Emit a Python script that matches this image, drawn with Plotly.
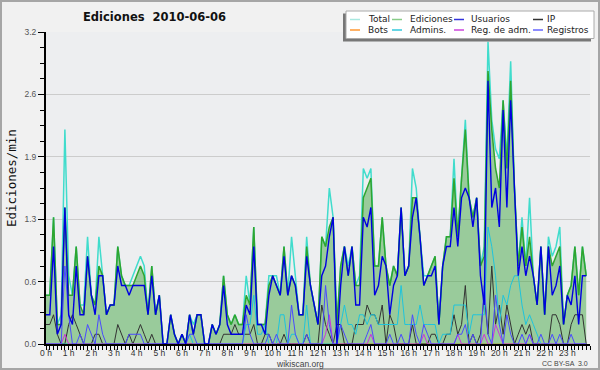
import plotly.graph_objects as go

# ---------------- data (edits per minute, 10-minute samples) ----------------
slot_minutes = 10
n_slots = 144
hours = [k * slot_minutes / 60 for k in range(n_slots)]

ediciones = [
    0.5,0.5,1.3,0.2,0.2,1.4, 0.5,0.5,1.0,0.4,0.3,0.9,
    0.5,0.4,0.8,0.7,0.3,0.4, 0.4,1.0,0.7,0.6,0.6,0.6,
    0.7,0.8,0.7,0.3,0.8,0.3, 0.5,0.0,0.0,0.3,0.1,0.0,
    0.1,0.0,0.3,0.1,0.3,0.3, 0.0,0.0,0.2,0.1,0.2,0.7,
    0.3,0.2,0.3,0.2,0.2,0.5, 0.4,1.2,0.2,0.2,0.2,0.6,
    0.7,0.6,0.5,1.0,0.5,0.7, 0.6,0.3,0.3,1.0,0.6,0.4,
    0.2,1.1,1.0,1.2,1.3,0.2, 0.8,1.0,0.7,1.0,0.6,0.6,
    1.5,1.6,1.7,0.8,0.8,1.3, 0.8,0.6,0.8,0.7,1.4,0.7,
    0.8,1.5,1.5,1.1,0.6,0.7, 0.8,0.9,0.2,0.8,1.1,1.1,
    1.7,1.1,1.7,2.2,1.5,1.3, 1.5,0.8,0.9,2.8,2.2,1.8,
    1.6,2.5,1.8,2.7,1.6,0.8, 1.2,0.8,1.1,0.7,0.4,1.0,
    0.3,1.0,0.8,0.9,1.0,0.2, 0.5,0.6,1.0,0.5,1.0,0.7,
]
total = [
    0.5,0.5,1.3,0.2,0.3,2.2, 0.7,0.5,1.0,0.4,0.4,1.1,
    0.5,0.4,1.1,0.7,0.3,0.4, 0.4,1.0,0.7,0.6,0.6,0.7,
    0.8,0.9,0.8,0.3,0.8,0.3, 0.5,0.0,0.0,0.3,0.1,0.0,
    0.1,0.0,0.3,0.2,0.3,0.3, 0.0,0.0,0.2,0.1,0.2,0.7,
    0.3,0.2,0.3,0.2,0.2,0.7, 0.4,1.2,0.2,0.2,0.2,0.7,
    0.7,0.7,0.5,1.0,0.5,1.1, 0.7,0.3,0.3,1.1,0.6,0.4,
    0.2,1.1,1.0,1.6,1.3,0.2, 0.8,1.0,0.8,1.0,0.6,0.7,
    1.8,1.7,1.8,0.8,0.8,1.3, 0.8,0.6,0.8,0.7,1.4,0.7,
    0.8,1.8,1.6,1.1,0.7,0.7, 0.8,0.9,0.2,0.8,1.1,1.1,
    1.9,1.1,1.7,2.3,1.5,1.3, 1.5,0.8,1.0,3.1,2.3,2.0,
    1.9,2.5,1.9,2.9,1.6,0.8, 1.3,0.8,1.5,0.7,0.4,1.0,
    0.3,1.1,0.9,1.0,1.2,0.2, 0.5,0.6,1.0,0.5,1.0,0.7,
]
usuarios = [
    0.3,0.3,1.0,0.1,0.2,1.4, 0.3,0.2,0.8,0.3,0.3,0.9,
    0.5,0.3,0.7,0.7,0.3,0.4, 0.4,0.8,0.6,0.6,0.5,0.6,
    0.6,0.6,0.6,0.3,0.7,0.3, 0.5,0.0,0.0,0.3,0.1,0.0,
    0.1,0.0,0.3,0.1,0.3,0.3, 0.0,0.0,0.2,0.1,0.2,0.6,
    0.2,0.1,0.1,0.1,0.1,0.4, 0.3,1.0,0.2,0.2,0.1,0.5,
    0.7,0.6,0.5,0.9,0.5,0.7, 0.6,0.3,0.3,0.9,0.6,0.4,
    0.2,0.7,0.8,1.1,1.3,0.0, 0.6,1.0,0.7,1.0,0.4,0.4,
    1.3,1.2,1.4,0.5,0.6,0.9, 0.8,0.3,0.6,0.7,1.4,0.7,
    0.8,1.3,1.5,1.1,0.6,0.7, 0.7,0.8,0.2,0.8,1.0,1.0,
    1.4,1.0,1.5,1.6,1.5,1.2, 1.5,0.7,0.4,2.7,1.4,1.6,
    1.2,2.4,1.4,2.5,1.6,0.7, 1.0,0.7,0.9,0.7,0.4,1.0,
    0.3,1.0,0.5,0.6,0.8,0.2, 0.5,0.4,0.7,0.2,0.7,0.7,
]
ip = [
    0.2,0.2,0.3,0.1,0.0,0.0, 0.2,0.3,0.2,0.1,0.0,0.0,
    0.0,0.1,0.1,0.0,0.0,0.0, 0.0,0.2,0.1,0.0,0.1,0.0,
    0.1,0.2,0.1,0.0,0.1,0.0, 0.0,0.0,0.0,0.0,0.0,0.0,
    0.0,0.0,0.0,0.0,0.0,0.0, 0.0,0.0,0.0,0.0,0.0,0.1,
    0.1,0.1,0.2,0.1,0.1,0.1, 0.1,0.2,0.0,0.0,0.1,0.1,
    0.0,0.0,0.0,0.1,0.0,0.0, 0.0,0.0,0.0,0.1,0.0,0.0,
    0.0,0.4,0.2,0.1,0.0,0.2, 0.2,0.0,0.0,0.0,0.2,0.2,
    0.2,0.4,0.3,0.3,0.2,0.4, 0.0,0.3,0.2,0.0,0.0,0.0,
    0.0,0.2,0.0,0.0,0.0,0.0, 0.1,0.1,0.0,0.0,0.1,0.1,
    0.3,0.1,0.2,0.6,0.0,0.1, 0.0,0.1,0.5,0.1,0.8,0.2,
    0.4,0.1,0.4,0.2,0.0,0.1, 0.2,0.1,0.2,0.0,0.0,0.0,
    0.0,0.0,0.3,0.3,0.2,0.0, 0.0,0.2,0.3,0.3,0.3,0.0,
]
bots = [0.0] * n_slots
admins = [
    0,0,0,0,0,0, 0,0,0,0,0,0,
    0,0,0,0,0,0, 0,0,0,0,0,0,
    0,0,0,0,0,0, 0,0,0,0,0,0,
    0,0,0.1,0,0,0, 0,0,0,0,0,0,
    0,0,0,0,0,0.2, 0.2,0.5,0.1,0.1,0.2,0.0,
    0.0,0.0,0.3,0.3,0.0,0.1, 0.1,0.0,0.0,0.4,0.0,0.0,
    0,0,0,0,0,0, 0.2,0.4,0.2,0.2,0.1,0.3,
    0.3,0.2,0.3,0.3,0.2,0.2, 0.2,0.2,0.2,0.2,0.6,0.2,
    0.2,0.2,0.2,0.4,0.2,0.2, 0.2,0.2,0.0,0.1,0.1,0.1,
    0.4,0.4,0.4,0.4,0.1,0.3, 0.3,0.3,0.3,1.2,1.0,0.7,
    0.2,0.5,0.4,0.6,0.7,0.7, 0.4,0.2,0.3,0.2,0.1,0.0,
    0,0,0,0,0,0, 0,0,0,0,0,0,
]
reg_adm = [
    0,0,0,0,0,0.1, 0,0,0,0,0,0,
    0,0,0,0,0,0, 0,0,0,0,0,0,
    0,0,0,0,0,0, 0,0,0,0,0,0,
    0,0,0,0,0,0, 0,0,0,0,0,0,
    0,0,0,0,0,0, 0,0,0,0,0,0,
    0,0,0,0,0,0, 0,0,0,0,0,0,
    0,0,0.1,0.3,0,0, 0,0,0,0,0,0,
    0,0,0.1,0,0,0, 0,0,0,0,0,0,
    0,0,0,0,0.1,0, 0,0,0,0,0,0,
    0,0.1,0,0,0,0, 0,0,0.1,0,0,0.2,
    0.1,0,0,0,0,0, 0,0,0.1,0,0,0,
    0,0,0,0,0,0, 0,0,0,0,0,0,
]
registros = [
    0,0,0,0,0,0.8, 0.3,0,0,0.1,0,0.2,
    0.1,0,0.3,0.1,0,0, 0,0,0,0,0.1,0.1,
    0.1,0.1,0,0,0,0, 0,0,0,0,0,0,
    0,0,0.1,0.1,0,0, 0,0,0,0,0,0,
    0,0,0,0,0,0.3, 0.1,0,0,0,0,0.1,
    0,0.1,0,0,0,0.4, 0.1,0,0,0.1,0,0,
    0,0,0.6,0.2,0,0, 0.2,0.1,0,0,0,0,
    0,0.1,0.2,0,0,0, 0,0.1,0,0,0.1,0,
    0,0.3,0.1,0,0.2,0.1, 0,0,0,0,0,0,
    0,0.1,0.1,0.2,0,0.1, 0,0,0.6,0.1,0,0.5,
    0.2,0,0.3,0.1,0,0, 0.1,0,0.1,0,0,0.1,
    0,0,0.1,0,0.1,0, 0,0.1,0,0,0,0,
]

x_tick_vals = list(range(24))
x_tick_labels = [f"{h} h" for h in range(24)]
y_tick_vals = [0, 0.64, 1.28, 1.92, 2.56, 3.2]
y_tick_labels = ["0.0", "0.6", "1.3", "1.9", "2.6", "3.2"]

legend_labels = ["Total", "Ediciones", "Usuarios", "IP",
                 "Bots", "Admins.", "Reg. de adm.", "Registros"]
legend_colors = ["#a8e8e0", "#88cc88", "#3333dd", "#333333",
                 "#ff9933", "#33c8dd", "#cc44dd", "#6666ff"]

# ---------------- geometry ----------------
W, H = 600, 370
ML, MR, MT, MB = 46, 10, 32, 26
PW, PH = W - ML - MR, H - MT - MB


def px(x):
    return (x - ML) / PW


def py(y):
    return (H - MB - y) / PH


FONT = "DejaVu Sans"
SMALL = "Liberation Sans"

fig = go.Figure()

series = [
    ("Bots", bots, "#ff9933", 1.0),
    ("Total", total, "#40dccc", 1.5),
]
for name, vals, col, w in series:
    fig.add_trace(go.Scatter(x=hours, y=vals, mode="lines", name=name,
                             line=dict(color=col, width=w), showlegend=False))

fig.add_trace(go.Scatter(x=hours, y=ediciones, mode="lines", name="Ediciones",
                         line=dict(color="#2fa52f", width=1.5), fill="tozeroy",
                         fillcolor="rgba(50,160,50,0.45)", showlegend=False))

for name, vals, col, w in [
    ("IP", ip, "#333333", 1.0),
    ("Admins.", admins, "#1fc4dc", 1.0),
    ("Reg. de adm.", reg_adm, "#cc33dd", 1.0),
    ("Registros", registros, "#4a4aff", 1.0),
    ("Usuarios", usuarios, "#0000e0", 1.4),
]:
    fig.add_trace(go.Scatter(x=hours, y=vals, mode="lines", name=name,
                             line=dict(color=col, width=w), showlegend=False))

shapes = []
annotations = []

# outer frame
shapes.append(dict(type="rect", xref="paper", yref="paper",
                   x0=px(1), x1=px(599), y0=py(369), y1=py(1),
                   line=dict(color="#a6a6a6", width=2), layer="above"))

# legend box with shadow
shapes.append(dict(type="rect", xref="paper", yref="paper",
                   x0=px(343), x1=px(591), y0=py(41.5), y1=py(13.5),
                   fillcolor="#777777", line=dict(width=0), layer="above"))
shapes.append(dict(type="rect", xref="paper", yref="paper",
                   x0=px(346), x1=px(594), y0=py(38.5), y1=py(11),
                   fillcolor="#ffffff", line=dict(color="#aaaaaa", width=1),
                   layer="above"))
col_sw = [350, 392, 454, 533]
col_tx = [366, 408, 469, 545]
row_y = [19.5, 30]
for k, (lab, col) in enumerate(zip(legend_labels, legend_colors)):
    r, c = divmod(k, 4)
    shapes.append(dict(type="line", xref="paper", yref="paper",
                       x0=px(col_sw[c]), x1=px(col_sw[c] + 10),
                       y0=py(row_y[r]), y1=py(row_y[r]),
                       line=dict(color=col, width=1.5), layer="above"))
    annotations.append(dict(text=lab, xref="paper", yref="paper",
                            x=px(col_tx[c]), y=py(row_y[r]), xanchor="left",
                            yanchor="middle", showarrow=False,
                            font=dict(family=FONT, size=9, color="#222222")))

annotations.append(dict(text="<b>Ediciones  2010-06-06</b>", xref="paper", yref="paper",
                        x=px(154), y=py(17), xanchor="center", yanchor="middle",
                        showarrow=False, font=dict(family=FONT, size=11.5, color="#111111")))
annotations.append(dict(text="Ediciones/min", xref="paper", yref="paper",
                        x=px(11), y=py(178), xanchor="center", yanchor="middle",
                        textangle=-90, showarrow=False,
                        font=dict(family="DejaVu Sans Mono", size=12.5, color="#111111")))
annotations.append(dict(text="wikiscan.org", xref="paper", yref="paper",
                        x=px(300), y=py(363.5), xanchor="center", yanchor="middle",
                        showarrow=False, font=dict(family=SMALL, size=8.5, color="#444444")))
annotations.append(dict(text="CC BY-SA  3.0", xref="paper", yref="paper",
                        x=px(590), y=py(363), xanchor="right", yanchor="middle",
                        showarrow=False, font=dict(family=SMALL, size=7, color="#444444")))

fig.update_layout(
    width=W, height=H,
    margin=dict(l=ML, r=MR, t=MT, b=MB, autoexpand=False),
    paper_bgcolor="#f1f1f1",
    plot_bgcolor="#edeef0",
    showlegend=False,
    shapes=shapes,
    annotations=annotations,
    xaxis=dict(range=[0, 24], tickmode="array", tickvals=x_tick_vals,
               ticktext=x_tick_labels, ticks="outside", ticklen=4, tickwidth=1,
               tickcolor="#000000", showgrid=False, zeroline=False,
               showline=True, linecolor="#000000", linewidth=2,
               automargin=False, ticklabelstandoff=-4,
               tickfont=dict(family=SMALL, size=8.5, color="#333333"),
               minor=dict(tick0=0, dtick=1 / 6, ticks="outside", ticklen=4,
                          tickcolor="#000000", showgrid=False)),
    yaxis=dict(range=[0, 3.2], tickmode="array", tickvals=y_tick_vals,
               ticktext=y_tick_labels, ticks="outside", ticklen=6, tickwidth=1,
               tickcolor="#000000", showgrid=True, gridcolor="#cccccc",
               gridwidth=1, zeroline=False, showline=True,
               linecolor="#000000", linewidth=2, automargin=False,
               tickfont=dict(family=SMALL, size=8.5, color="#555555"),
               minor=dict(tick0=0, dtick=0.16, ticks="outside", ticklen=4,
                          tickcolor="#000000", showgrid=False)),
)

fig.write_html("out.html", config={"displayModeBar": False},
               post_script="document.body.style.margin='0';document.body.style.overflow='hidden';")
